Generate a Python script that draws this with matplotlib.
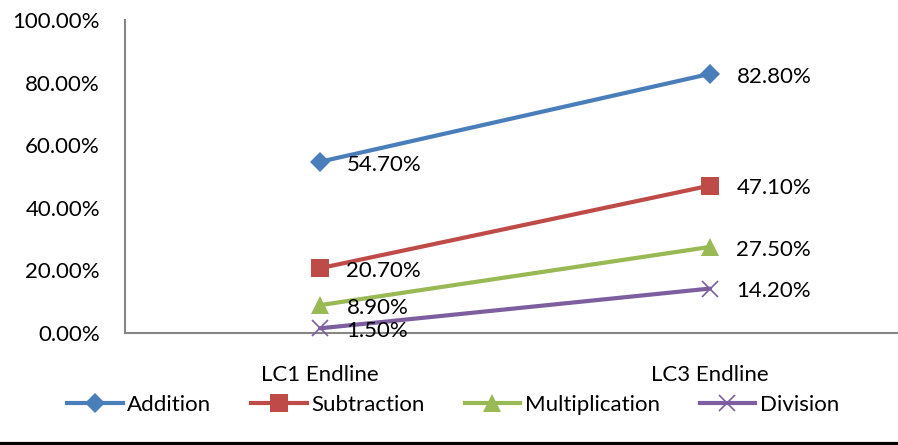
import matplotlib
matplotlib.use("Agg")
import matplotlib.pyplot as plt
from matplotlib.lines import Line2D

categories = ["LC1 Endline", "LC3 Endline"]
series_names = ["Addition", "Subtraction", "Multiplication", "Division"]
addition = [54.7, 82.8]
subtraction = [20.7, 47.1]
multiplication = [8.9, 27.5]
division = [1.5, 14.2]
y_ticks = [0, 20, 40, 60, 80, 100]

colors = ["#4A7EBB", "#BE4B48", "#98B954", "#7D5FA0"]
markers = ["D", "s", "^", "x"]
msizes = [10, 13, 13, 12]

plt.rcParams['font.family'] = ['Lato', 'DejaVu Sans']
FS = 16

fig = plt.figure(figsize=(8.98, 4.45), dpi=100)
W, H = 898, 445
left, right = 125, 905
bottom, top = 333, 20
ax = fig.add_axes([left / W, 1 - bottom / H, (right - left) / W, (bottom - top) / H])

x = list(range(len(categories)))
data = [addition, subtraction, multiplication, division]
for vals, name, c, m, ms in zip(data, series_names, colors, markers, msizes):
    ax.plot(x, vals, color=c, lw=3, marker=m, ms=ms, mew=1.2 if m == "x" else 0,
            mec=c, mfc=c, label=name, solid_capstyle='round', zorder=3, clip_on=False)
    for xi, v in zip(x, vals):
        ax.annotate(f"{v:.2f}%", (xi, v), xytext=(19, -2), textcoords="offset points",
                    ha="left", va="center", fontsize=FS, color="black", zorder=4)

ax.set_xlim(-0.5, 1.5)
ax.set_ylim(0, 100)
ax.set_yticks(y_ticks)
ax.set_yticklabels([f"{t:.2f}%" for t in y_ticks])
ax.set_xticks(x)
ax.set_xticklabels(categories)
ax.tick_params(axis='y', length=0, pad=18, labelsize=FS)
ax.tick_params(axis='x', length=0, pad=23, labelsize=FS)
for s in ["top", "right"]:
    ax.spines[s].set_visible(False)
for s in ["left", "bottom"]:
    ax.spines[s].set_color("#868686")
    ax.spines[s].set_linewidth(1.5)

handles = [Line2D([0], [0], color=c, lw=3, marker=m, ms=ms, mew=1.2 if m == "x" else 0,
                  mec=c, mfc=c) for c, m, ms in zip(colors, markers, msizes)]
fig.legend(handles, series_names, loc="center", bbox_to_anchor=(453 / W, 1 - 405 / H),
           ncol=4, frameon=False, fontsize=FS, handlelength=2.5, handletextpad=0.2,
           columnspacing=1.8, borderaxespad=0)

fig.add_artist(Line2D([0, 1], [1 - 443.5 / H, 1 - 443.5 / H], color="black", lw=3,
                      transform=fig.transFigure))

fig.savefig("out.png", dpi=100)
